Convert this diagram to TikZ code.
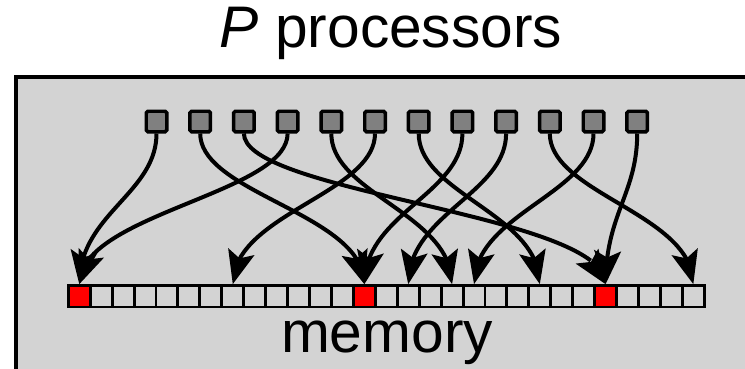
\documentclass[tikz,border=0pt]{standalone}
\usepackage{fontspec}
\setmainfont{Liberation Sans}
\usetikzlibrary{arrows.meta, bending}

\definecolor{boxgray}{HTML}{D3D3D3}
\definecolor{procgray}{HTML}{808080}

\begin{document}
\begin{tikzpicture}[
  x=0.75pt, y=-0.75pt,
  proc/.style={draw=black, fill=procgray, line width=2.6pt, minimum size=15.4pt, inner sep=0pt, rounded corners=1.2pt},
  cell/.style={draw=black, fill=boxgray, line width=2.2pt, minimum width=16.45pt, minimum height=16pt, inner sep=0pt},
  link/.style={-{Stealth[length=25pt, width=20pt, inset=5pt]}, line width=3pt},
  lbl/.style={font=\fontsize{44}{50}\selectfont, inner sep=0pt}
]
\useasboundingbox (0,0) rectangle (745,368);
\draw[fill=boxgray, line width=2.4pt] (16,77) rectangle (770,390);

\node[lbl, anchor=base] (title) at (391,47) {\textit{P} processors};
\node[lbl, anchor=base] (memlabel) at (387,352) {memory};

% processors
\foreach \i in {1,...,12}
  \node[proc] (p\i) at ({156.5+43.7*(\i-1)},121.5) {};

% memory cells, the hit ones in red
\foreach \j in {0,...,28}{
  \ifnum\j=0 \def\cellfill{red}\else\ifnum\j=13 \def\cellfill{red}\else
  \ifnum\j=24 \def\cellfill{red}\else\def\cellfill{boxgray}\fi\fi\fi
  \node[cell, fill=\cellfill] (m\j) at ({68.3+21.93*(\j+0.5)},296.3) {};
}

% random accesses
\foreach \a/\b in {1/0, 2/13, 3/24, 4/0, 5/17, 6/7, 7/21, 8/13, 9/15, 10/28, 11/18, 12/24}
  \draw[link] (p\a.south) .. controls +(0,60) and +(0,-70) .. (m\b.north);
\end{tikzpicture}
\end{document}
